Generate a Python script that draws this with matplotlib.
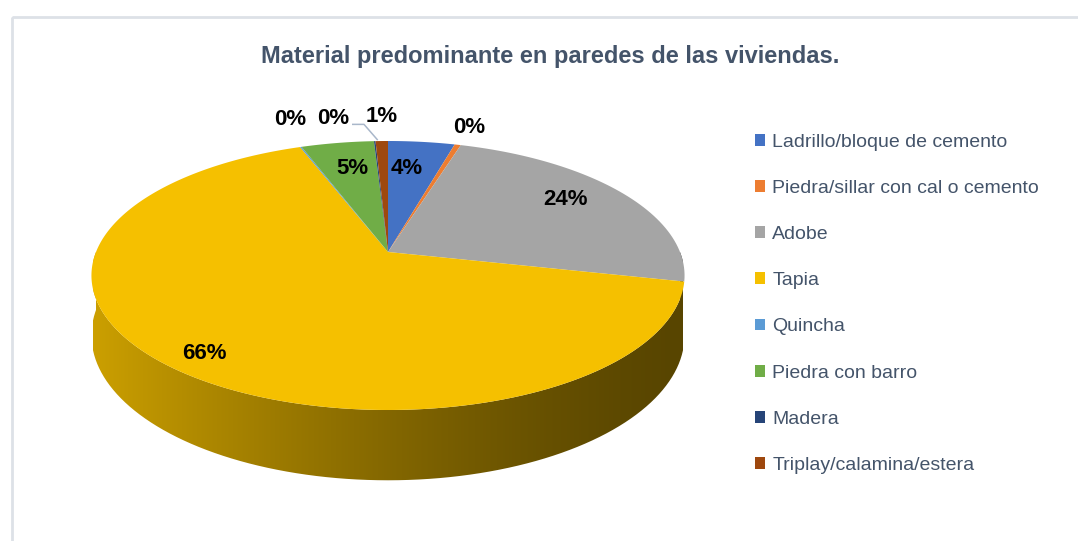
import numpy as np
import matplotlib
matplotlib.use("Agg")
import matplotlib.pyplot as plt
from matplotlib import transforms as mtransforms
from matplotlib.path import Path
from matplotlib.patches import PathPatch, Rectangle
from matplotlib.colors import to_rgb

# ---------------- data ----------------
categories = ["Ladrillo/bloque de cemento", "Piedra/sillar con cal o cemento", "Adobe",
              "Tapia", "Quincha", "Piedra con barro", "Madera", "Triplay/calamina/estera"]
values = [4.3, 0.4, 23.8, 65.8, 0.1, 4.7, 0.1, 0.8]
pct_labels = ["4%", "0%", "24%", "66%", "0%", "5%", "0%", "1%"]
colors = ["#4472C4", "#ED7D31", "#A5A5A5", "#F5C000", "#5B9BD5", "#70AD47", "#264478", "#9E480E"]
title = "Material predominante en paredes de las viviendas."

# ---------------- layout ----------------
W, H = 1078, 541
CX, CY = 388, 252          # pie centre (px)
RX, RY = 292, 130.4        # projected radii (px)
PERSP = 0.1747             # perspective strength
DEPTH = 58 / 130.4         # pie thickness (in radius units)
NARROW = ["Liberation Sans Narrow", "Liberation Sans", "DejaVu Sans"]

label_r = [0.70, 1.22, 0.75, 0.85, 1.25, 0.72, 1.25, 1.25]
label_dxy = [(-6, -3), (-1, 2), (0, -6), (0, 7), (7, -6), (2, -2), (-39, 0), (1, -2)]


class Persp(mtransforms.Transform):
    input_dims = output_dims = 2
    is_separable = False
    has_inverse = False

    def __init__(self, p, z=0.0):
        super().__init__()
        self.p = p
        self.z = z

    def transform_non_affine(self, xy):
        xy = np.asarray(xy, float).reshape(-1, 2)
        d = 1 + self.p * xy[:, 1]
        return np.column_stack([xy[:, 0] / d, (xy[:, 1] - self.z) / d])

    def transform_path_non_affine(self, path):
        verts, codes = [], []
        for bez, code in path.iter_bezier():
            if code == Path.MOVETO:
                verts.append(bez.control_points[0])
                codes.append(Path.MOVETO)
            else:
                pts = bez(np.linspace(0, 1, 30)[1:])
                verts.extend(pts)
                codes.extend([Path.LINETO] * len(pts))
        return Path(self.transform_non_affine(np.array(verts)), codes)


fig = plt.figure(figsize=(W / 100, H / 100), dpi=100)
fig.patch.set_facecolor("white")
ax = fig.add_axes([0, 0, 1, 1])

wedges, _ = ax.pie(values, colors=colors, startangle=90, counterclock=False,
                   radius=1, center=(0, 0), wedgeprops=dict(linewidth=0))

base = mtransforms.Affine2D().scale(RX, -RY).translate(CX, CY) + ax.transData
top = Persp(PERSP)
for w in wedges:
    w.set_transform(top + base)
    w.set_zorder(3)


def shade(s):
    return 0.36 + 0.47 * (1 - s) ** 1.4


# side walls (front half only)
for w, c in zip(wedges, colors):
    a, b = w.theta1, w.theta2
    for k in range(-2, 2):
        s0, s1 = max(a, 180 + 360 * k), min(b, 360 + 360 * k)
        if s1 <= s0:
            continue
        t = np.radians(np.linspace(s0, s1, 200))
        uv = np.column_stack([np.cos(t), np.sin(t)])
        up = Persp(PERSP).transform(uv)
        lo = Persp(PERSP, DEPTH).transform(uv)[::-1]
        poly = np.vstack([up, lo])
        patch = PathPatch(Path(poly, closed=False), transform=base,
                          facecolor="none", edgecolor="none", zorder=1)
        ax.add_patch(patch)
        xs = np.linspace(0, 1, 400)
        rgb = np.array(to_rgb(c))
        grad = (shade(xs)[:, None] * rgb[None, :])[None, :, :]
        im = ax.imshow(grad, extent=(CX - RX - 3, CX + RX + 3, CY + 250, CY - 20),
                       aspect="auto", interpolation="bilinear", zorder=2)
        im.set_clip_path(patch)

# data labels
tr = top + base - ax.transData
for i, w in enumerate(wedges):
    mid = np.radians((w.theta1 + w.theta2) / 2)
    r = label_r[i]
    px = tr.transform([[r * np.cos(mid), r * np.sin(mid)]])[0]
    dx, dy = label_dxy[i]
    ax.text(px[0] + dx, px[1] + dy, pct_labels[i], ha="center", va="center",
            fontsize=16, fontweight="bold", color="black", family=NARROW, zorder=5)

# leader line for "Madera"
im_ = 6
mid = np.radians((wedges[im_].theta1 + wedges[im_].theta2) / 2)
p_edge = tr.transform([[np.cos(mid), np.sin(mid)]])[0]
p_lab = tr.transform([[label_r[im_] * np.cos(mid), label_r[im_] * np.sin(mid)]])[0]
lx, ly = p_lab[0] + label_dxy[im_][0] + 19, p_lab[1] + label_dxy[im_][1] + 6
ax.plot([lx, lx + 12, p_edge[0] + 3], [ly, ly, p_edge[1] - 1], color="#A9B7CA",
        lw=1.1, zorder=4, solid_capstyle="butt")

ax.set_xlim(0, W)
ax.set_ylim(H, 0)
ax.set_aspect("auto")
ax.axis("off")

# chart frame
ax.add_patch(Rectangle((11.5, 16.5), W + 20, H + 20, facecolor="none",
                       edgecolor="#DDE1E7", lw=2, zorder=0))

# title
ax.text(550, 57, title, ha="center", va="center", fontsize=17, fontweight="bold",
        color="#44546A", family=NARROW)

# legend
fig.legend(wedges, categories, loc="upper left", bbox_to_anchor=(745 / W, 1 - 124 / H),
           frameon=False, labelcolor="#44546A", handlelength=0.55,
           handleheight=0.55, handletextpad=0.35, labelspacing=1.5, borderpad=0,
           prop={"family": NARROW, "size": 14})

fig.savefig("out.png", dpi=100, facecolor="white")
